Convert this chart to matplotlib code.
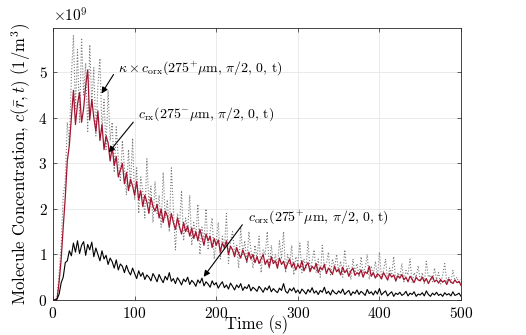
import numpy as np
import matplotlib
matplotlib.use('Agg')
import matplotlib.pyplot as plt

# time axis (s), 2.5 s sampling
t = np.arange(0, 500.01, 2.5)

# kappa x c_orx(275+ um, pi/2, 0, t), units of 1e9 /m^3
k_orx = [
    0, 0, 0.05, 0.6, 1.2, 2.3, 2.6, 3.9, 3.4, 4.9,
    5.8, 4.2, 5.5, 3.9, 5.75, 4.5, 5.2, 3.7, 5.6, 4.3,
    5.1, 3.6, 4.7, 5.3, 3.7, 4.4, 3.3, 4.6, 3.5, 3.9,
    2.8, 3.8, 3.1, 2.6, 3.5, 2.9, 2.3, 3.3, 2.5, 3.55,
    2.2, 2.9, 1.9, 2.7, 2.4, 1.8, 3.1, 2.1, 2.5, 1.7,
    2.6, 1.9, 2.3, 1.6, 2.8, 1.8, 2.2, 1.5, 2.9, 2.0,
    1.1, 1.9, 1.6, 2.4, 1.3, 1.8, 1.5, 2.3, 1.2, 1.7,
    1.4, 2.1, 1.0, 1.6, 1.3, 2.0, 1.1, 1.5, 1.8, 0.9,
    1.3, 1.7, 0.9, 1.4, 1.1, 1.9, 0.8, 1.3, 1.5, 1.0,
    1.2, 0.7, 1.6, 1.0, 1.3, 0.8, 1.5, 1.1, 0.7, 1.2,
    0.9, 1.4, 0.6, 1.1, 1.0, 1.5, 0.7, 1.2, 0.8, 1.0,
    0.7, 1.3, 0.9, 1.5, 0.6, 1.0, 0.8, 1.2, 0.55, 0.95,
    0.8, 1.25, 0.6, 0.9, 0.7, 1.3, 0.65, 0.85, 1.1, 0.6,
    0.9, 0.5, 1.2, 0.7, 0.8, 1.05, 0.55, 0.9, 0.7, 1.0,
    0.6, 0.85, 0.5, 1.1, 0.65, 0.75, 0.45, 0.9, 0.6, 0.8,
    0.5, 0.95, 0.6, 0.7, 1.0, 0.45, 0.75, 0.55, 0.85, 0.5,
    1.05, 0.5, 0.65, 0.9, 0.42, 0.7, 0.55, 0.95, 0.4, 0.6,
    0.5, 0.8, 0.4, 0.65, 0.55, 0.9, 0.38, 0.6, 0.5, 0.75,
    0.42, 0.6, 0.35, 0.85, 0.5, 0.55, 0.4, 0.7, 0.45, 0.6,
    0.35, 0.55, 0.8, 0.4, 0.5, 0.38, 0.65, 0.42, 0.5, 0.36, 0.45,
]

# c_rx(275- um, pi/2, 0, t), units of 1e9 /m^3
c_rx = [
    0, 0, 0.03, 0.4, 0.9, 1.6, 2.25, 3.05, 3.4, 4.0,
    4.6, 3.85, 4.3, 4.55, 3.9, 4.2, 4.7, 5.05, 3.95, 4.4,
    4.0, 3.7, 4.15, 3.5, 3.85, 3.3, 3.6, 3.45, 3.05, 3.35,
    2.95, 3.15, 2.7, 2.85, 3.0, 2.55, 2.8, 2.4, 2.65, 2.5,
    2.3, 2.6, 2.2, 2.4, 2.05, 2.3, 2.15, 1.9, 2.25, 2.05,
    1.95, 2.1, 1.8, 2.0, 1.7, 1.95, 1.85, 1.6, 1.9, 1.7,
    1.55, 1.8, 1.6, 1.45, 1.7, 1.5, 1.62, 1.4, 1.58, 1.35,
    1.5, 1.3, 1.55, 1.38, 1.2, 1.45, 1.3, 1.4, 1.15, 1.35,
    1.2, 1.32, 1.05, 1.25, 1.15, 1.3, 1.0, 1.18, 1.1, 0.95,
    1.15, 1.02, 0.92, 1.1, 0.98, 0.85, 1.05, 0.9, 1.0, 0.82,
    0.95, 0.8, 0.9, 1.0, 0.78, 0.88, 0.72, 0.95, 0.8, 0.86,
    0.7, 0.92, 0.78, 0.85, 0.68, 0.8, 0.9, 0.72, 0.82, 0.66,
    0.78, 0.7, 0.86, 0.64, 0.75, 0.82, 0.62, 0.74, 0.68, 0.8,
    0.6, 0.72, 0.66, 0.78, 0.58, 0.7, 0.64, 0.56, 0.74, 0.62,
    0.68, 0.55, 0.72, 0.6, 0.66, 0.52, 0.64, 0.7, 0.54, 0.6,
    0.56, 0.66, 0.5, 0.62, 0.58, 0.74, 0.52, 0.6, 0.48, 0.57,
    0.54, 0.46, 0.6, 0.52, 0.44, 0.58, 0.5, 0.55, 0.42, 0.53,
    0.48, 0.56, 0.44, 0.5, 0.4, 0.52, 0.46, 0.38, 0.5, 0.44,
    0.42, 0.5, 0.4, 0.47, 0.36, 0.45, 0.52, 0.4, 0.44, 0.37,
    0.45, 0.39, 0.43, 0.34, 0.46, 0.4, 0.36, 0.44, 0.38, 0.41, 0.32,
]

# c_orx(275+ um, pi/2, 0, t), units of 1e9 /m^3
c_orx = [
    0, 0, 0.02, 0.13, 0.38, 0.5, 0.82, 0.86, 1.08, 0.97,
    1.25, 1.05, 1.3, 1.02, 1.2, 1.28, 0.98, 1.22, 1.1, 1.27,
    0.95, 1.14, 1.0, 0.86, 1.08, 0.9, 0.98, 0.78, 0.92, 0.84,
    0.7, 0.88, 0.66, 0.79, 0.74, 0.6, 0.76, 0.63, 0.55, 0.7,
    0.58, 0.47, 0.64, 0.52, 0.6, 0.45, 0.55, 0.5, 0.42, 0.58,
    0.5, 0.4, 0.56, 0.46, 0.38, 0.52, 0.44, 0.6, 0.41, 0.47,
    0.36, 0.49, 0.42, 0.33, 0.46, 0.4, 0.5, 0.34, 0.43, 0.38,
    0.3, 0.44, 0.37, 0.48, 0.31, 0.4, 0.35, 0.28, 0.42, 0.33,
    0.38, 0.26, 0.34, 0.4, 0.27, 0.33, 0.24, 0.37, 0.3, 0.22,
    0.33, 0.27, 0.36, 0.21, 0.29, 0.25, 0.34, 0.2, 0.28, 0.24,
    0.19, 0.3, 0.24, 0.17, 0.27, 0.22, 0.31, 0.18, 0.25, 0.2,
    0.16, 0.26, 0.21, 0.36, 0.19, 0.15, 0.25, 0.2, 0.27, 0.16,
    0.22, 0.14, 0.24, 0.19, 0.13, 0.23, 0.17, 0.27, 0.15, 0.2,
    0.12, 0.21, 0.17, 0.28, 0.14, 0.19, 0.11, 0.22, 0.16, 0.13,
    0.2, 0.15, 0.24, 0.12, 0.17, 0.21, 0.1, 0.18, 0.14, 0.22,
    0.12, 0.19, 0.15, 0.1, 0.23, 0.14, 0.18, 0.11, 0.2, 0.13,
    0.25, 0.11, 0.16, 0.2, 0.09, 0.14, 0.18, 0.08, 0.15, 0.12,
    0.17, 0.1, 0.13, 0.19, 0.09, 0.15, 0.12, 0.18, 0.08, 0.13,
    0.11, 0.16, 0.09, 0.2, 0.12, 0.08, 0.15, 0.11, 0.17, 0.1,
    0.13, 0.08, 0.16, 0.11, 0.14, 0.09, 0.18, 0.1, 0.12, 0.15, 0.08,
]

plt.rcParams['font.family'] = 'cmr10'
plt.rcParams['mathtext.fontset'] = 'cm'
plt.rcParams['axes.unicode_minus'] = False
plt.rcParams['axes.formatter.use_mathtext'] = True

fig = plt.figure(figsize=(5.26, 3.35), dpi=100)
ax = fig.add_axes([0.1008, 0.1045, 0.7757, 0.812])

ax.plot(t, k_orx, color='#7a7a7a', linestyle=':', linewidth=0.8)
ax.plot(t, c_rx, color='#A2142F', linewidth=0.9)
ax.plot(t, c_orx, color='black', linewidth=0.8)

ax.set_xlim(0, 500)
ax.set_ylim(0, 5.97)
ax.set_xticks([0, 100, 200, 300, 400, 500])
ax.set_yticks([0, 1, 2, 3, 4, 5])
ax.grid(True, color='#e6e6e6', linewidth=0.6)
ax.set_axisbelow(True)
ax.tick_params(direction='in', top=True, right=True, labelsize=11,
               color='#262626', length=3, width=0.5, pad=4)
for s in ax.spines.values():
    s.set_color('#262626')
    s.set_linewidth(0.6)

ax.set_xlabel('Time (s)', fontsize=12, labelpad=-4)
ax.set_ylabel(r'Molecule Concentration, $c(\bar{r},t)$ $(1/\mathrm{m}^3)$', fontsize=12)
ax.text(0.0, 1.012, r'$\times 10^9$', transform=ax.transAxes, fontsize=11,
        va='bottom', ha='left')

arrow = dict(arrowstyle='-|>', color='black', lw=0.8, mutation_scale=9)

ax.annotate('', xy=(57.6, 4.48), xytext=(76, 5.0), arrowprops=arrow)
ax.text(79.7, 5.1, r'$\kappa \times c_{\mathrm{orx}}(275^{+}\mu\mathrm{m},\,\pi/2,\,0,\,\mathrm{t})$',
        fontsize=10, va='center', ha='left')

ax.annotate('', xy=(66, 3.19), xytext=(100.5, 3.95), arrowprops=arrow)
ax.text(104, 4.07, r'$c_{\mathrm{rx}}(275^{-}\mu\mathrm{m},\,\pi/2,\,0,\,\mathrm{t})$',
        fontsize=10, va='center', ha='left')

ax.annotate('', xy=(182.6, 0.46), xytext=(234, 1.7), arrowprops=arrow)
ax.text(239, 1.82, r'$c_{\mathrm{orx}}(275^{+}\mu\mathrm{m},\,\pi/2,\,0,\,\mathrm{t})$',
        fontsize=10, va='center', ha='left')

fig.savefig('out.png', dpi=100)
